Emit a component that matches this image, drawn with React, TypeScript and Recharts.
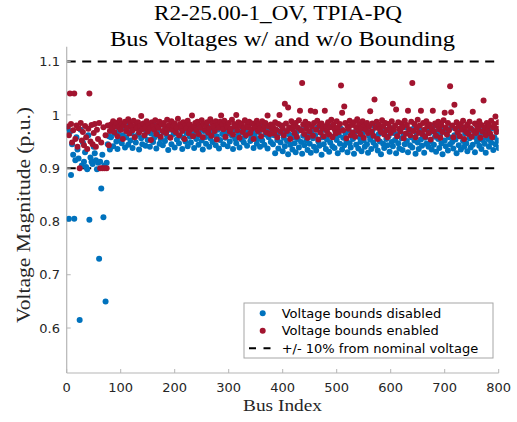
import { ScatterChart, Scatter, XAxis, YAxis, ReferenceLine } from "recharts";

const BLUE = "#0072BD";
const RED = "#A2142F";

// Bus voltages in thousandths of p.u., one value for every second bus (2, 4, ..., 800).
// Bounds disabled (blue)
const disabledHead = [
  975, 805, 968, 887, 945, 925, 805, 915, 958, 935, 918, 615, 972, 905, 948, 912, 930, 902, 898, 962,
  803, 920, 912, 908, 940, 928, 915, 898, 910, 730, 912, 862, 925, 808, 905, 650, 910, 945, 960, 935,
];
const disabledMid = [
  958, 972, 941, 965, 978, 950, 936, 969, 955, 981, 947, 962, 975, 939, 958, 970, 944, 983, 952, 966,
  938, 974, 959, 948, 980, 963, 935, 971, 956, 945, 977, 961, 942, 968, 953, 984, 940, 965, 973, 949,
  957, 979, 937, 962, 970, 946, 955, 982, 943, 967, 951, 976, 960, 934, 972, 958, 945, 980, 964, 939,
  969, 954, 978, 947, 961, 974, 936, 957, 983, 950, 966, 941, 971, 959, 948, 977, 963, 938, 968, 955,
  981, 944, 962, 973, 952, 935, 970, 958, 946, 979, 965, 940, 956, 975, 949, 967, 984, 943, 960, 972,
  937, 953, 978, 964, 945, 969, 957, 982, 941, 966, 950, 974, 961, 936, 971, 955, 947, 980, 963, 939,
  968, 954, 976, 948, 959, 973, 942, 965, 983, 951, 957, 970, 938, 962, 977, 946, 955, 968, 940, 974,
  952, 979, 944, 963, 971, 937, 958, 966, 949, 975,
];
const disabledTail = [
  945, 962, 928, 971, 953, 937, 966, 948, 979, 932, 957, 941, 969, 951, 926, 963, 944, 975, 935, 958,
  947, 930, 968, 955, 939, 973, 949, 927, 961, 943, 977, 952, 934, 965, 946, 929, 970, 956, 940, 962,
  933, 976, 950, 942, 967, 925, 958, 945, 972, 936, 954, 964, 931, 948, 978, 941, 959, 938, 969, 953,
  928, 962, 946, 974, 935, 957, 943, 966, 951, 930, 971, 947, 939, 963, 955, 927, 968, 944, 976, 937,
  958, 949, 932, 965, 952, 940, 973, 945, 929, 961, 954, 936, 969, 948, 979, 942, 957, 933, 964, 950,
  926, 967, 946, 938, 972, 955, 943, 960, 931, 975, 949, 941, 966, 953, 928, 963, 947, 937, 970, 956,
  934, 961, 945, 977, 951, 930, 968, 943, 958, 939, 974, 952, 927, 965, 948, 936, 971, 954, 942, 962,
  929, 957, 946, 973, 940, 966, 950, 935, 978, 944, 959, 931, 969, 955, 938, 963, 947, 926, 972, 952,
  941, 967, 933, 958, 945, 976, 949, 937, 962, 954, 928, 970, 943, 960, 935, 974, 951, 940, 965, 947,
  932, 968, 956, 939, 973, 944, 961, 930, 957, 950, 977, 942, 964, 936, 953, 971, 946, 929, 967, 955,
  940, 962, 948, 975, 934, 958, 945, 969, 952, 938,
];

// Bounds enabled (red)
const enabledHead = [
  978, 962, 1040, 983, 948, 971, 1040, 955, 980, 940, 975, 900, 985, 952, 968, 943, 979, 958, 936, 974,
  1040, 950, 981, 945, 966, 983, 940, 972, 955, 985, 900, 948, 900, 977, 900, 962, 900, 980, 943, 970,
];
const enabledMid = [
  982, 975, 988, 968, 979, 985, 960, 977, 990, 972, 983, 955, 980, 987, 970, 976, 992, 965, 984, 978,
  971, 989, 958, 981, 975, 986, 967, 979, 998, 973, 984, 962, 977, 988, 969, 982, 975, 953, 986, 979,
  972, 990, 964, 980, 976, 987, 959, 983, 970, 985, 978, 966, 991, 974, 981, 957, 988, 972, 979, 984,
  968, 976, 993, 962, 983, 977, 970, 986, 955, 980, 975, 989, 966, 982, 973, 999, 960, 978, 985, 971,
  987, 964, 980, 976, 990, 958, 983, 972, 979, 986, 967, 975, 992, 961, 984, 978, 970, 988, 954, 981,
  976, 987, 999, 982, 973, 989, 959, 980, 977, 985, 969, 974, 991, 963, 983, 978, 1000, 971, 986, 957,
  979, 984, 968, 975, 990, 962, 981, 977, 987, 966, 973, 984, 955, 980, 976, 989, 970, 983, 975, 960,
  988, 972, 979, 985, 967, 999, 978, 964, 982, 974,
];
const enabledTail = [
  978, 965, 986, 972, 958, 983, 1000, 969, 980, 975,
  962, 1021, 984, 970, 1014, 977, 955, 988, 973, 981,
  966, 985, 959, 976, 990, 1008, 971, 1060, 982, 964,
  987, 974, 957, 983, 969, 1008, 978, 961, 985, 1006,
  972, 989, 954, 980, 967, 984, 975, 960, 1008, 979,
  970, 986, 963, 977, 991, 958, 982, 973, 965, 988,
  976, 968, 983, 1055, 1004, 971, 1016, 985, 956, 979,
  974, 989, 962, 981, 967, 986, 959, 977, 992, 970,
  983, 964, 975, 988, 957, 980, 972, 985, 966, 978,
  1007, 969, 984, 961, 1029, 976, 987, 955, 982, 973,
  968, 990, 979, 963, 985, 971, 958, 983, 976, 966,
  988, 1021, 972, 980, 1010, 960, 986, 974, 969, 984,
  977, 956, 989, 965, 981, 1008, 973, 962, 987, 1060,
  970, 983, 958, 976, 991, 967, 980, 1008, 964, 985,
  972, 959, 988, 978, 966, 982, 954, 975, 1008, 969,
  984, 961, 979, 987, 973, 957, 981, 968, 990, 1004,
  976, 963, 985, 971, 1054, 1005, 980, 958, 1019, 974,
  986, 967, 979, 960, 983, 972, 989, 955, 977, 968,
  982, 964, 987, 975, 959, 1006, 970, 984, 966, 979,
  973, 988, 957, 981, 969, 1027, 976, 962, 985, 971,
  980, 965, 989, 958, 977, 983, 997, 968, 974, 986,
];

const busTicks = [0, 100, 200, 300, 400, 500, 600, 700, 800];
const voltTicks = [0.6, 0.7, 0.8, 0.9, 1, 1.1];
const bounds = [0.9, 1.1];

const toPoints = (milli: number[]) => milli.map((m, i) => ({ bus: 2 * (i + 1), v: m / 1000 }));

const disabled = toPoints([...disabledHead, ...disabledMid, ...disabledTail]);
const enabled = toPoints([...enabledHead, ...enabledMid, ...enabledTail]);

const dot = (color: string) => (props: any) => <circle cx={props.cx} cy={props.cy} r={3} fill={color} />;

const tickStyle = { fontSize: 13, fill: "#262626", fontFamily: "DejaVu Sans" };
const axisGrey = "#b5b5b5";
const serif = "Liberation Serif";
const legendFont = { fontSize: 13, fontFamily: "DejaVu Sans", fill: "#000" };

export default function App() {
  return (
    <div style={{ position: "absolute", left: 0, top: 0, width: 517, height: 422, background: "#fff" }}>
      <ScatterChart width={517} height={422} margin={{ top: 46.7, right: 18.3, bottom: 19, left: 16.7 }}>
        <XAxis
          type="number"
          dataKey="bus"
          domain={[0, 800]}
          ticks={busTicks}
          allowDataOverflow
          height={30}
          tick={tickStyle}
          axisLine={{ stroke: axisGrey, strokeWidth: 1.2 }}
          tickLine={{ stroke: axisGrey }}
          tickSize={-4}
          tickMargin={14}
        />
        <YAxis
          type="number"
          dataKey="v"
          domain={[0.5156, 1.128]}
          ticks={voltTicks}
          allowDataOverflow
          width={50}
          tick={tickStyle}
          axisLine={{ stroke: axisGrey, strokeWidth: 1.2 }}
          tickLine={{ stroke: axisGrey }}
          tickSize={-4}
          tickMargin={10.7}
        />
        <Scatter data={disabled} fill={BLUE} shape={dot(BLUE)} isAnimationActive={false} />
        <Scatter data={enabled} fill={RED} shape={dot(RED)} isAnimationActive={false} />
        {bounds.map((b) => (
          <ReferenceLine key={b} y={b} stroke="#000" strokeWidth={2} strokeDasharray="9 6.5" />
        ))}
      </ScatterChart>

      <svg width={517} height={422} style={{ position: "absolute", left: 0, top: 0, pointerEvents: "none" }}>
        <text x={154} y={20} fontFamily={serif} fontSize={21} textLength={248} lengthAdjust="spacingAndGlyphs" fill="#000">
          R2-25.00-1_OV, TPIA-PQ
        </text>
        <text x={110} y={46} fontFamily={serif} fontSize={21} textLength={345} lengthAdjust="spacingAndGlyphs" fill="#000">
          Bus Voltages w/ and w/o Bounding
        </text>
        <text x={243} y={410.5} fontFamily={serif} fontSize={17} textLength={79} lengthAdjust="spacingAndGlyphs" fill="#262626">
          Bus Index
        </text>
        <text
          x={0}
          y={0}
          transform="translate(30,215) rotate(-90)"
          textAnchor="middle"
          fontFamily={serif}
          fontSize={18}
          textLength={216}
          lengthAdjust="spacingAndGlyphs"
          fill="#262626"
        >
          Voltage Magnitude (p.u.)
        </text>

        <rect x={244} y={303} width={249} height={55} fill="#fff" stroke="#a6a6a6" strokeWidth={1} />
        <circle cx={262.7} cy={313.3} r={3} fill={BLUE} />
        <text x={281.7} y={313.3} dy="0.36em" {...legendFont}>Voltage bounds disabled</text>
        <circle cx={262.7} cy={330.7} r={3} fill={RED} />
        <text x={281.7} y={330.7} dy="0.36em" {...legendFont}>Voltage bounds enabled</text>
        <line x1={249} y1={348.3} x2={272} y2={348.3} stroke="#000" strokeWidth={2} strokeDasharray="7 7.5" />
        <text x={281.7} y={348.3} dy="0.36em" {...legendFont}>+/- 10% from nominal voltage</text>
      </svg>
    </div>
  );
}
